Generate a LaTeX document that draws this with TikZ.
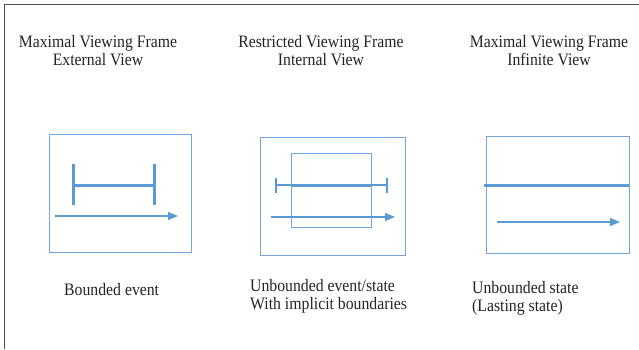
\documentclass[tikz,border=0pt]{standalone}
\usepackage{fontspec}
\setmainfont{Liberation Serif}[FakeStretch=0.9]
\usetikzlibrary{arrows.meta}
\definecolor{lineblue}{RGB}{91,155,213}
\definecolor{boxblue}{RGB}{115,165,218}
\definecolor{framegray}{RGB}{80,80,80}
\definecolor{textgray}{RGB}{35,35,35}
\tikzset{
  viewbox/.style={draw=boxblue, line width=1pt},
  bar/.style={draw=lineblue, line width=3pt},
  thinbar/.style={draw=lineblue, line width=1.2pt},
  timearrow/.style={draw=lineblue, line width=1.4pt, -{Triangle[length=10pt,width=8pt]}},
  caption/.style={font=\fontsize{17.5}{18}\selectfont, text=textgray, align=center, inner sep=0pt},
  note/.style={font=\fontsize{17.5}{18}\selectfont, text=textgray, align=left, inner sep=0pt, anchor=west},
}
\begin{document}
\begin{tikzpicture}[x=1pt, y=-1pt]
  \useasboundingbox (0,0) rectangle (639,349);
  % outer frame (top and left edges)
  \draw[framegray, line width=1.6pt] (4.5,349) -- (4.5,4.5) -- (639,4.5);

  % headings
  \node[caption] (h1) at (98,51) {Maximal Viewing Frame\\External View};
  \node[caption] (h2) at (321,51) {Restricted Viewing Frame\\Internal View};
  \node[caption] (h3) at (549,51) {Maximal Viewing Frame\\Infinite View};

  % panel 1: bounded event
  \draw[viewbox] (49,134) rectangle (191,252);
  \draw[bar] (73,164) -- (73,205);
  \draw[bar] (154,164) -- (154,205);
  \draw[bar] (73,185) -- (154,185);
  \coordinate (a1s) at (55,216);
  \coordinate (a1e) at (178,216);
  \draw[timearrow] (a1s) -- (a1e);

  % panel 2: restricted view of an unbounded event
  \draw[viewbox] (260,137) rectangle (405,255);
  \draw[viewbox] (291,153) rectangle (371,227);
  \draw[thinbar] (276,185) -- (387,185);
  \draw[thinbar] (276,178) -- (276,193);
  \draw[thinbar] (387,178) -- (387,193);
  \draw[bar] (291,185) -- (371,185);
  \coordinate (a2s) at (271,217);
  \coordinate (a2e) at (395,217);
  \draw[timearrow] (a2s) -- (a2e);

  % panel 3: unbounded state
  \draw[viewbox] (486,136) rectangle (629,253);
  \draw[bar] (484,185) -- (629,185);
  \coordinate (a3s) at (497,222);
  \coordinate (a3e) at (620,222);
  \draw[timearrow] (a3s) -- (a3e);

  % captions below
  \node[note] (c1) at (64,290) {Bounded event};
  \node[note] (c2) at (250,296) {Unbounded event/state\\With implicit boundaries};
  \node[note] (c3) at (472,298) {Unbounded state\\(Lasting state)};
\end{tikzpicture}
\end{document}
